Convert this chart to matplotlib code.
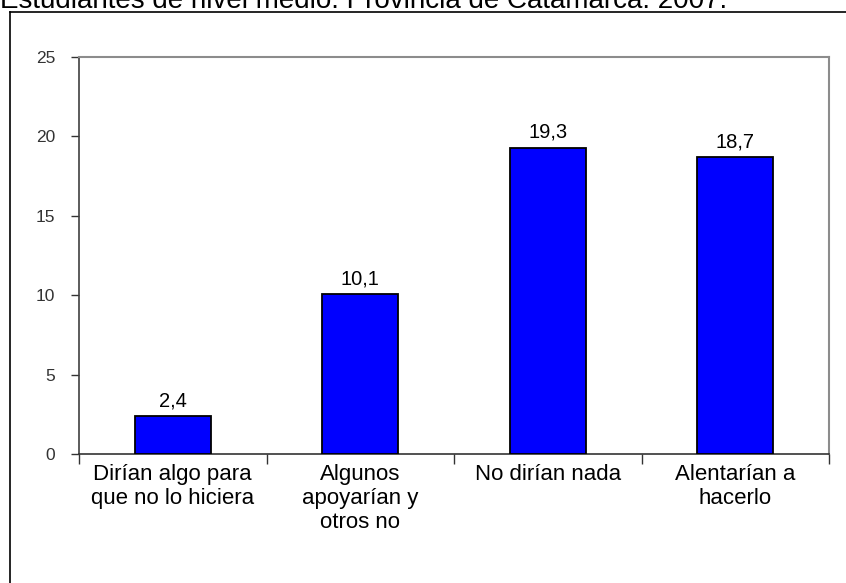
import matplotlib
matplotlib.use("Agg")
import matplotlib.pyplot as plt
from matplotlib.lines import Line2D

plt.rcParams["font.family"] = ["Liberation Sans", "DejaVu Sans"]

title = "Estudiantes de nivel medio. Provincia de Catamarca. 2007."
categories = [
    "Dirían algo para\nque no lo hiciera",
    "Algunos\napoyarían y\notros no",
    "No dirían nada",
    "Alentarían a\nhacerlo",
]
values = [2.4, 10.1, 19.3, 18.7]
yticks = [0, 5, 10, 15, 20, 25]

W, H = 846, 583
fig = plt.figure(figsize=(W / 100, H / 100), dpi=100)
ax = fig.add_axes([79 / W, 1 - 454 / H, (829 - 79) / W, (454 - 57) / H])

x = list(range(len(values)))
ax.bar(x, values, width=0.405, color="#0000FF", edgecolor="black", linewidth=1.3, zorder=3)
for xi, v in zip(x, values):
    ax.text(xi, v + 0.35, f"{v:.1f}".replace(".", ","), ha="center", va="bottom",
            fontsize=14.5, color="black")

ax.set_xlim(-0.5, len(values) - 0.5)
ax.set_ylim(0, 25)
ax.set_yticks(yticks)
ax.set_yticklabels([str(t) for t in yticks], fontsize=12.5, color="#333333")
ax.tick_params(axis="y", direction="out", length=6, width=1, color="#333333", pad=11)

# category ticks sit on the boundaries, labels in the middle
ax.set_xticks([i - 0.5 for i in range(len(values) + 1)])
ax.set_xticklabels([])
ax.set_xticks(x, minor=True)
ax.set_xticklabels(categories, minor=True, fontsize=16, color="black", linespacing=1.2, va="top")
ax.tick_params(axis="x", which="major", direction="out", length=7, width=1, color="#333333")
ax.tick_params(axis="x", which="minor", length=0, pad=7)

ax.spines["left"].set_color("#404040")
ax.spines["left"].set_linewidth(1.2)
ax.spines["bottom"].set_color("#333333")
ax.spines["bottom"].set_linewidth(1.2)
for s in ("top", "right"):
    ax.spines[s].set_color("#8c8c8c")
    ax.spines[s].set_linewidth(1.5)

# outer chart frame (only left and top visible)
fig.add_artist(Line2D([10 / W, 10 / W], [0, 1 - 11.5 / H], color="black", linewidth=1.2))
fig.add_artist(Line2D([10 / W, 1], [1 - 11.5 / H, 1 - 11.5 / H], color="black", linewidth=1.2))

# title is cropped at the top edge, as in the source image
fig.text(0, 1 - 8 / H, title, ha="left", va="baseline", fontsize=20, color="black")

fig.savefig("out.png", dpi=100)
